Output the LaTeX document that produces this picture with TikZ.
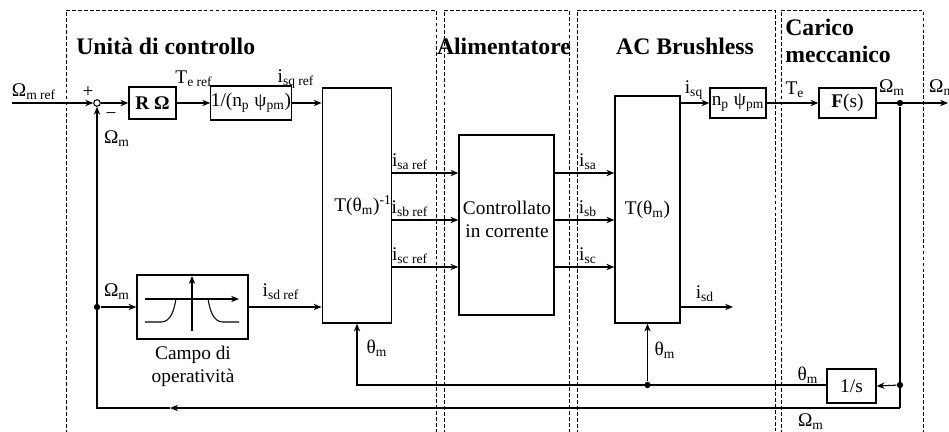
\documentclass[tikz,border=0pt]{standalone}
\usepackage{fontspec}
\setmainfont{Liberation Serif}
\usetikzlibrary{arrows.meta,positioning}
\newcommand\lblfont{\fontsize{11}{13}\selectfont}
\newcommand\ttlfont{\fontsize{13.5}{15.5}\selectfont\bfseries}
\tikzset{
  blk/.style={draw,line width=0.75pt,inner sep=0pt,font=\lblfont,align=center},
  wire/.style={line width=0.6pt},
  arr/.style={wire,-{Stealth[length=4.5pt,width=3.6pt]}},
  dot/.style={circle,fill,inner sep=0pt,minimum size=3.6pt},
  sumnode/.style={circle,draw,line width=0.6pt,inner sep=0pt,minimum size=1.3mm},
  lbl/.style={font=\lblfont,inner sep=0.5pt},
  ttl/.style={font=\ttlfont,inner sep=0pt,align=left},
  zone/.style={line width=0.5pt,dash pattern=on 2.2pt off 1.2pt},
}
\begin{document}
\begin{tikzpicture}[x=0.2mm,y=-0.2mm]
  \useasboundingbox (0,0) rectangle (949,432);
  % zones
  \draw[zone] (66,440) |- (436,10) -- (436,440);
  \draw[zone] (444,440) |- (569,10) -- (569,440);
  \draw[zone] (577,440) |- (775,10) -- (775,440);
  \draw[zone] (781,440) |- (923,10) -- (923,440);
  \node[ttl,anchor=west] (tctl) at (76,46) {Unità di controllo};
  \node[ttl] (tali) at (504,46) {Alimentatore};
  \node[ttl] (tbrl) at (685,46) {AC Brushless};
  \node[ttl,anchor=west] (tcar) at (785,41) {Carico\\meccanico};

  % blocks
  \node[sumnode] (sum) at (97,103) {};
  \node[blk,minimum width=9.4mm,minimum height=6.4mm] (RO) at (152.5,103) {\textbf{R Ω}};
  \node[blk,minimum width=14.8mm,minimum height=6.8mm] (NP) at (251,103) {1/(n\textsubscript{p} ψ\textsubscript{pm})};
  \node[blk,minimum width=12.8mm,minimum height=47mm] (Tinv) at (357,205.5) {\hspace{2.4mm}T(θ\textsubscript{m})\textsuperscript{-1}};
  \node[blk,minimum width=19mm,minimum height=36mm] (CC) at (506.5,225) {};
  \node[lbl,align=center] (cclbl) at (507,219) {Controllato\\in corrente};
  \node[blk,minimum width=13mm,minimum height=45.4mm] (T) at (647.5,209.5) {T(θ\textsubscript{m})};
  \node[blk,minimum width=11.2mm,minimum height=6mm] (KT) at (738,103) {n\textsubscript{p} ψ\textsubscript{pm}};
  \node[blk,minimum width=11.4mm,minimum height=6mm] (F) at (847.5,103) {\textbf{F}(s)};
  \node[blk,minimum width=9.8mm,minimum height=6.8mm] (INT) at (851.5,386) {1/s};
  \node[blk,minimum width=22.2mm,minimum height=12.8mm] (CAMPO) at (192.5,307) {};
  \node[lbl,align=center] (campolbl) at (193,366) {Campo di\\operatività};

  % field weakening curve
  \draw[arr] (192,331) -- (192,276);
  \draw[arr] (145,299) -- (239,299);
  \draw[wire] (145,322) -- (161,322) .. controls (171,322) and (174,310) .. (176,299);
  \draw[wire] (208,299) .. controls (210,310) and (213,322) .. (223,322) -- (239,322);

  % forward path
  \coordinate (in) at (12,103);
  \coordinate (out) at (948,103);
  \draw[arr] (in) -- (sum.west);
  \draw[arr] (sum) -- (RO);
  \draw[arr] (RO) -- (NP);
  \draw[arr] (NP.east) -- (NP.east -| Tinv.west);
  \coordinate (ya) at (0,173);
  \coordinate (yb) at (0,220);
  \coordinate (yc) at (0,267);
  \draw[arr] (Tinv.east |- ya) -- (CC.west |- ya);
  \draw[arr] (Tinv.east |- yb) -- (CC.west |- yb);
  \draw[arr] (Tinv.east |- yc) -- (CC.west |- yc);
  \draw[arr] (CC.east |- ya) -- (T.west |- ya);
  \draw[arr] (CC.east |- yb) -- (T.west |- yb);
  \draw[arr] (CC.east |- yc) -- (T.west |- yc);
  \draw[arr] (T.east |- KT) -- (KT.west);
  \draw[arr] (KT) -- (F);
  \node[dot] (tap) at (900,103) {};
  \draw[arr] (F) -- (out);

  % feedback
  \node[dot] (tapth) at (900,385) {};
  \coordinate (corner) at (900,408);
  \coordinate (mid) at (170,408);
  \draw[wire] (tap) -- (corner);
  \draw[arr] (tapth) -- (INT.east);
  \draw[arr] (INT.west |- tapth) -| (Tinv.south);
  \node[dot] (tapT) at (T.south |- tapth) {};
  \draw[arr] (tapT) -- (T.south);
  \draw[arr] (corner) -- (mid);
  \draw[arr] (mid) -| (sum.south);
  \node[dot] (tapO) at (sum |- CAMPO) {};
  \draw[arr] (tapO) -- (CAMPO.west);
  \draw[arr] (CAMPO.east) -- (CAMPO.east -| Tinv.west);
  \coordinate (isdout) at (733,307);
  \draw[arr] (isdout -| T.east) -- (isdout);

  % labels
  \node[lbl] at (34,92) {Ω\textsubscript{m ref}};
  \node[lbl] at (88,92) {+};
  \node[lbl] at (111,116) {−};
  \node[lbl] at (117,139) {Ω\textsubscript{m}};
  \node[lbl] at (194,79) {T\textsubscript{e ref}};
  \node[lbl] at (296,79) {i\textsubscript{sq ref}};
  \node[lbl] at (410,162) {i\textsubscript{sa ref}};
  \node[lbl] at (410,209) {i\textsubscript{sb ref}};
  \node[lbl] at (410,256) {i\textsubscript{sc ref}};
  \node[lbl] at (588,162) {i\textsubscript{sa}};
  \node[lbl] at (588,209) {i\textsubscript{sb}};
  \node[lbl] at (588,256) {i\textsubscript{sc}};
  \node[lbl] at (694,90) {i\textsubscript{sq}};
  \node[lbl] at (795,90) {T\textsubscript{e}};
  \node[lbl] at (892,88) {Ω\textsubscript{m}};
  \node[lbl,anchor=west] at (928,88) {Ω\textsubscript{m}};
  \node[lbl] at (281,292) {i\textsubscript{sd ref}};
  \node[lbl] at (117,292) {Ω\textsubscript{m}};
  \node[lbl] at (377,348) {θ\textsubscript{m}};
  \node[lbl] at (665,350) {θ\textsubscript{m}};
  \node[lbl] at (808,375) {θ\textsubscript{m}};
  \node[lbl] at (705,294) {i\textsubscript{sd}};
  \node[lbl] at (811,422) {Ω\textsubscript{m}};
\end{tikzpicture}
\end{document}
